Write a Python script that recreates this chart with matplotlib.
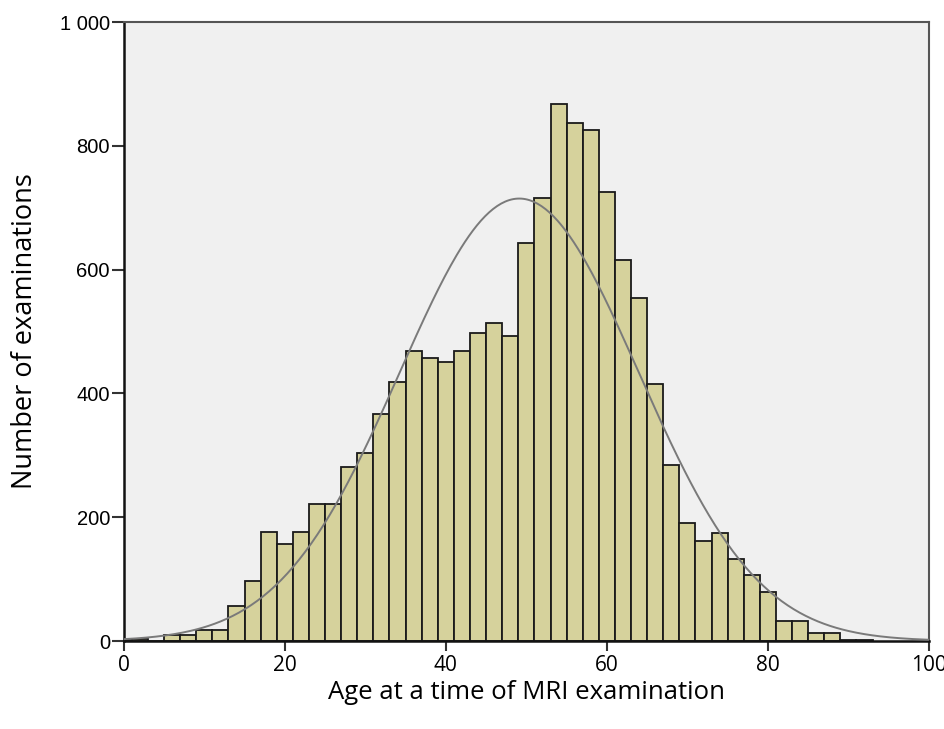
import numpy as np
import matplotlib
matplotlib.use('Agg')
import matplotlib.pyplot as plt

# 나이 구간 (2세 폭) 및 검사 수
bin_edges = [-1, 1, 3, 5, 7, 9, 11, 13, 15, 17, 19, 21, 23, 25, 27, 29, 31, 33, 35, 37,
             39, 41, 43, 45, 47, 49, 51, 53, 55, 57, 59, 61, 63, 65, 67, 69, 71, 73,
             75, 77, 79, 81, 83, 85, 87, 89, 91, 93]
counts = [2, 3, 0, 10, 10, 18, 18, 56, 97, 176, 156, 176, 222, 222, 281, 303, 367,
          419, 469, 457, 451, 469, 497, 514, 493, 643, 716, 868, 837, 826, 726, 616,
          555, 415, 285, 190, 161, 174, 132, 106, 79, 33, 33, 13, 13, 2, 1]

x_ticks = [0, 20, 40, 60, 80, 100]
y_ticks = [0, 200, 400, 600, 800, 1000]
y_tick_labels = ['0', '200', '400', '600', '800', '1 000']

edges = np.array(bin_edges, dtype=float)
vals = np.array(counts, dtype=float)
centers = (edges[:-1] + edges[1:]) / 2
widths = np.diff(edges)

fig = plt.figure(figsize=(9.45, 7.29), dpi=100)
ax = fig.add_axes([0.131, 0.1207, 0.852, 0.849])
ax.set_facecolor('#f0f0f0')

ax.bar(edges[:-1], vals, width=widths, align='edge', color='#d6d29c',
       edgecolor='#1a1a1a', linewidth=1.3, zorder=2)

# 정규분포 곡선
n = vals.sum()
mean = (centers * vals).sum() / n
sd = np.sqrt((vals * (centers - mean) ** 2).sum() / n)
xs = np.linspace(0, 100, 400)
ys = n * 2 / (sd * np.sqrt(2 * np.pi)) * np.exp(-0.5 * ((xs - mean) / sd) ** 2)
ax.plot(xs, ys, color='#7a7a7a', linewidth=1.4, zorder=3)

ax.set_xlim(0, 100)
ax.set_ylim(0, 1000)
ax.set_xticks(x_ticks)
ax.set_xticklabels([str(t) for t in x_ticks], fontfamily='Open Sans', fontsize=15)
ax.set_yticks(y_ticks)
ax.set_yticklabels(y_tick_labels, fontfamily='Liberation Sans', fontsize=14.5)
ax.tick_params(axis='x', length=7, width=1.5, color='#333333', pad=3)
ax.tick_params(axis='y', length=9, width=1.5, color='#333333', pad=1)

for side in ['left', 'bottom']:
    ax.spines[side].set_color('#111111')
    ax.spines[side].set_linewidth(1.8)
for side in ['top', 'right']:
    ax.spines[side].set_color('#555555')
    ax.spines[side].set_linewidth(1.5)

ax.set_xlabel('Age at a time of MRI examination', fontfamily='Open Sans',
              fontsize=18.5, labelpad=3)
ax.set_ylabel('Number of examinations', fontfamily='Open Sans', fontsize=19.5,
              labelpad=15)

plt.savefig('out.png', dpi=100)
plt.close()
